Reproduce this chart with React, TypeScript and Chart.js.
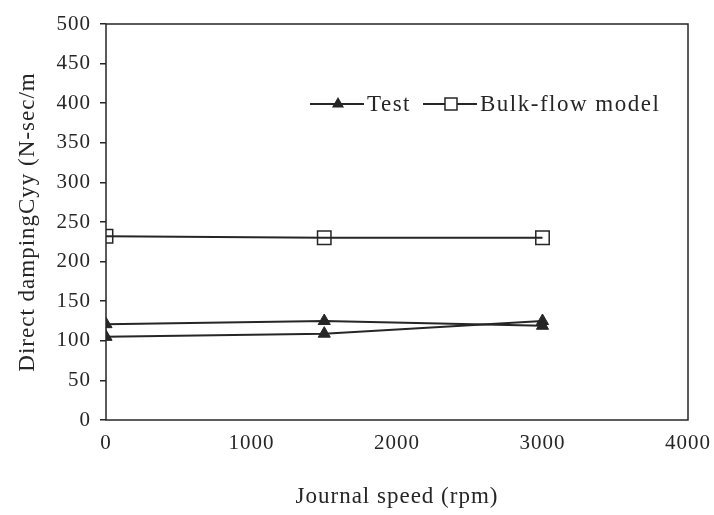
import React, { useEffect, useRef } from "react";
import { Chart, registerables } from "chart.js";

Chart.register(...registerables);

const speeds = [0, 1500, 3000];
const testUpper = [121, 125, 119];
const testLower = [105, 109, 125];
const bulkFlow = [232, 230, 230];

const xTicks = [0, 1000, 2000, 3000, 4000];
const yTicks = [0, 50, 100, 150, 200, 250, 300, 350, 400, 450, 500];

const INK = "#262626";
const FONT = "'Liberation Serif', 'Times New Roman', serif";
const SPACING = "1px";

const toPts = (ys: number[]) => speeds.map((x, i) => ({ x, y: ys[i] }));

const spacingPlugin = {
  id: "spacing",
  afterInit(chart: any) {
    chart.ctx.letterSpacing = SPACING;
  },
  beforeUpdate(chart: any) {
    chart.ctx.letterSpacing = SPACING;
  },
  beforeDraw(chart: any) {
    chart.ctx.letterSpacing = SPACING;
  },
};

const boxPlugin = {
  id: "box",
  afterDatasetsDraw(chart: any) {
    const { ctx, chartArea } = chart;
    ctx.save();
    ctx.strokeStyle = INK;
    ctx.lineWidth = 1.5;
    ctx.strokeRect(chartArea.left, chartArea.top, chartArea.right - chartArea.left, chartArea.bottom - chartArea.top);
    ctx.restore();
  },
};

const legendPlugin = {
  id: "customLegend",
  afterDatasetsDraw(chart: any) {
    const { ctx, chartArea } = chart;
    const ds = chart.data.datasets.filter((d: any) => !d.hideInLegend);
    let x = chartArea.left + 204;
    const y = chartArea.top + 80;
    ctx.save();
    ctx.font = `23px ${FONT}`;
    ctx.letterSpacing = "1.5px";
    ctx.textBaseline = "middle";
    ds.forEach((d: any) => {
      ctx.strokeStyle = INK;
      ctx.lineWidth = 2;
      ctx.beginPath();
      ctx.moveTo(x, y);
      ctx.lineTo(x + 54, y);
      ctx.stroke();
      const cx = x + 28;
      if (d.pointStyle === "triangle") {
        const r = 7;
        ctx.fillStyle = INK;
        ctx.beginPath();
        ctx.moveTo(cx, y - r);
        ctx.lineTo(cx + r * 0.866, y + r * 0.5);
        ctx.lineTo(cx - r * 0.866, y + r * 0.5);
        ctx.closePath();
        ctx.fill();
      } else {
        const s = 12;
        ctx.fillStyle = "#ffffff";
        ctx.fillRect(cx - s / 2, y - s / 2, s, s);
        ctx.lineWidth = 1.5;
        ctx.strokeRect(cx - s / 2, y - s / 2, s, s);
      }
      ctx.fillStyle = INK;
      ctx.textAlign = "left";
      ctx.fillText(d.label, x + 57, y + 1);
      x += 57 + ctx.measureText(d.label).width + 12;
    });
    ctx.restore();
  },
};

export default function App() {
  const ref = useRef<HTMLCanvasElement | null>(null);
  useEffect(() => {
    if (!ref.current) return;
    const chart = new Chart(ref.current, {
      type: "line",
      data: {
        datasets: [
          {
            label: "Test",
            data: toPts(testUpper),
            borderColor: INK,
            backgroundColor: INK,
            borderWidth: 2,
            pointStyle: "triangle",
            pointRadius: 7,
            pointBorderWidth: 1,
            tension: 0,
          } as any,
          {
            label: "Test",
            hideInLegend: true,
            data: toPts(testLower),
            borderColor: INK,
            backgroundColor: INK,
            borderWidth: 2,
            pointStyle: "triangle",
            pointRadius: 7,
            pointBorderWidth: 1,
            tension: 0,
          } as any,
          {
            label: "Bulk-flow model",
            data: toPts(bulkFlow),
            borderColor: INK,
            backgroundColor: "rgba(0,0,0,0)",
            borderWidth: 2,
            pointStyle: "rect",
            pointRadius: 9.5,
            pointBorderWidth: 1.5,
            tension: 0,
          } as any,
        ],
      },
      options: {
        animation: false,
        responsive: true,
        maintainAspectRatio: false,
        layout: { padding: { top: 24, right: 26, left: 0, bottom: 0 } },
        plugins: { legend: { display: false }, tooltip: { enabled: false } },
        scales: {
          x: {
            type: "linear",
            min: 0,
            max: 4000,
            afterBuildTicks: (s: any) => {
              s.ticks = xTicks.map((v) => ({ value: v }));
            },
            afterFit: (s: any) => {
              s.height = 95;
              s.paddingLeft = 0;
              s.paddingRight = 0;
            },
            ticks: {
              color: INK,
              font: { family: FONT, size: 21 },
              padding: 11,
              maxRotation: 0,
              callback: (v: any) => String(v),
            },
            grid: { drawOnChartArea: false, drawTicks: false, color: INK },
            border: { display: false },
            title: {
              display: true,
              text: "Journal speed (rpm)",
              color: INK,
              font: { family: FONT, size: 23 },
              padding: { top: 0, bottom: 4 },
            },
          },
          y: {
            type: "linear",
            min: 0,
            max: 500,
            afterBuildTicks: (s: any) => {
              s.ticks = yTicks.map((v) => ({ value: v }));
            },
            afterFit: (s: any) => {
              s.width = 106;
              s.paddingTop = 0;
              s.paddingBottom = 0;
            },
            ticks: { color: INK, font: { family: FONT, size: 21 }, padding: 9, callback: (v: any) => String(v) },
            grid: { drawOnChartArea: false, drawTicks: true, tickLength: 6, color: INK, lineWidth: 1.5 },
            border: { display: false },
            title: {
              display: true,
              text: "Direct dampingCyy (N-sec/m",
              color: INK,
              font: { family: FONT, size: 23 },
              padding: { top: 14, bottom: 0 },
            },
          },
        },
      },
      plugins: [spacingPlugin, boxPlugin, legendPlugin],
    } as any);
    return () => chart.destroy();
  }, []);
  return (
    <div style={{ position: "fixed", left: 0, top: 0, width: 714, height: 515, background: "#fff" }}>
      <canvas ref={ref} />
    </div>
  );
}
